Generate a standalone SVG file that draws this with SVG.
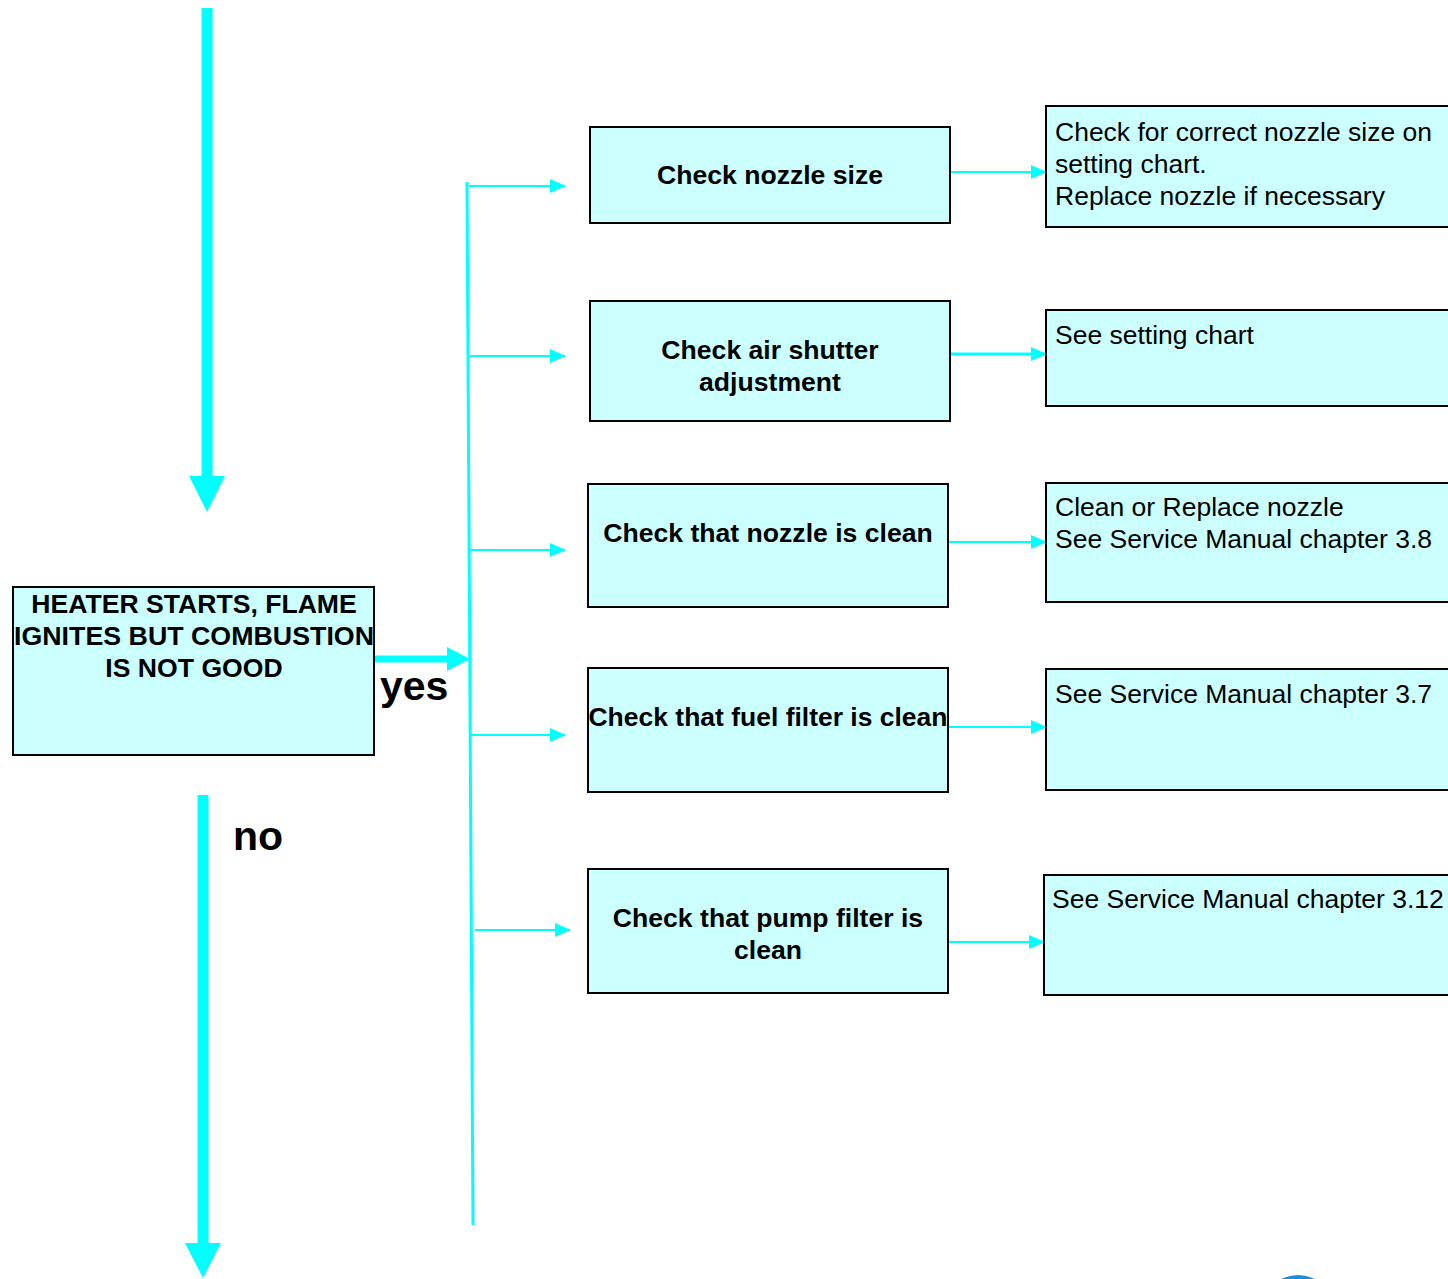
<svg xmlns="http://www.w3.org/2000/svg" width="1448" height="1279" viewBox="0 0 1448 1279">
<style>
.box{fill:#CCFFFF;stroke:#000;stroke-width:2}
.b{font-family:"Liberation Sans",Arial,sans-serif;font-weight:bold;font-size:26.6px;fill:#000}
.r{font-family:"Liberation Sans",Arial,sans-serif;font-size:26.5px;fill:#000}
.big{font-family:"Liberation Sans",Arial,sans-serif;font-weight:bold;font-size:41px;fill:#000}
.c{stroke:#00FFFF;fill:none}
.h{fill:#00FFFF}
</style>
<defs>
<marker id="ah" viewBox="0 0 16 14" refX="15" refY="7" markerWidth="16" markerHeight="14" markerUnits="userSpaceOnUse" orient="auto">
<path d="M0,0 L16,7 L0,14 Z" fill="#00FFFF"/>
</marker>
</defs>
<rect width="1448" height="1279" fill="#fff"/>
<g id="connectors">
<line class="c" x1="207" y1="8" x2="207" y2="478" stroke-width="11"/>
<polygon class="h" points="189,476 225,476 207,512"/>
<line class="c" x1="203" y1="795" x2="203" y2="1245" stroke-width="11"/>
<polygon class="h" points="185,1243 221,1243 203,1278"/>
<line class="c" x1="374" y1="659" x2="450" y2="659" stroke-width="7"/>
<polygon class="h" points="447,647 470,659 447,671"/>
<line class="c" x1="467" y1="182" x2="473" y2="1225" stroke-width="3"/>
<line class="c" x1="469" y1="186" x2="565" y2="186" stroke-width="2" marker-end="url(#ah)"/>
<line class="c" x1="470" y1="356" x2="565" y2="356" stroke-width="2" marker-end="url(#ah)"/>
<line class="c" x1="470" y1="550" x2="565" y2="550" stroke-width="2" marker-end="url(#ah)"/>
<line class="c" x1="471" y1="735" x2="565" y2="735" stroke-width="2" marker-end="url(#ah)"/>
<line class="c" x1="475" y1="930" x2="570" y2="930" stroke-width="2" marker-end="url(#ah)"/>
<line class="c" x1="950" y1="172" x2="1046" y2="172" stroke-width="2" marker-end="url(#ah)"/>
<line class="c" x1="950" y1="354" x2="1046" y2="354" stroke-width="3" marker-end="url(#ah)"/>
<line class="c" x1="948" y1="542" x2="1046" y2="542" stroke-width="2" marker-end="url(#ah)"/>
<line class="c" x1="948" y1="727" x2="1046" y2="727" stroke-width="2" marker-end="url(#ah)"/>
<line class="c" x1="948" y1="942" x2="1044" y2="942" stroke-width="2" marker-end="url(#ah)"/>
</g>
<g id="labels">
<text class="big" x="380" y="700">yes</text>
<text class="big" x="233" y="850">no</text>
</g>
<g id="start">
<rect class="box" x="13" y="587" width="361" height="168"/>
<text class="b" x="194" y="613" text-anchor="middle">HEATER STARTS, FLAME</text>
<text class="b" x="194" y="645" text-anchor="middle" textLength="360" lengthAdjust="spacingAndGlyphs">IGNITES BUT COMBUSTION</text>
<text class="b" x="194" y="677" text-anchor="middle">IS NOT GOOD</text>
</g>
<g id="check1">
<rect class="box" x="590" y="127" width="360" height="96"/>
<text class="b" x="770" y="184" text-anchor="middle">Check nozzle size</text>
</g>
<g id="check2">
<rect class="box" x="590" y="301" width="360" height="120"/>
<text class="b" x="770" y="359" text-anchor="middle">Check air shutter</text>
<text class="b" x="770" y="391" text-anchor="middle">adjustment</text>
</g>
<g id="check3">
<rect class="box" x="588" y="484" width="360" height="123"/>
<text class="b" x="768" y="542" text-anchor="middle">Check that nozzle is clean</text>
</g>
<g id="check4">
<rect class="box" x="588" y="668" width="360" height="124"/>
<text class="b" x="768" y="726" text-anchor="middle" textLength="359" lengthAdjust="spacingAndGlyphs">Check that fuel filter is clean</text>
</g>
<g id="check5">
<rect class="box" x="588" y="869" width="360" height="124"/>
<text class="b" x="768" y="927" text-anchor="middle">Check that pump filter is</text>
<text class="b" x="768" y="959" text-anchor="middle">clean</text>
</g>
<g id="action1">
<rect class="box" x="1046" y="106" width="420" height="121"/>
<text class="r" x="1055" y="141">Check for correct nozzle size on</text>
<text class="r" x="1055" y="173">setting chart.</text>
<text class="r" x="1055" y="205">Replace nozzle if necessary</text>
</g>
<g id="action2">
<rect class="box" x="1046" y="310" width="420" height="96"/>
<text class="r" x="1055" y="344">See setting chart</text>
</g>
<g id="action3">
<rect class="box" x="1046" y="483" width="420" height="119"/>
<text class="r" x="1055" y="516">Clean or Replace nozzle</text>
<text class="r" x="1055" y="548">See Service Manual chapter 3.8</text>
</g>
<g id="action4">
<rect class="box" x="1046" y="669" width="420" height="121"/>
<text class="r" x="1055" y="703">See Service Manual chapter 3.7</text>
</g>
<g id="action5">
<rect class="box" x="1044" y="875" width="420" height="120"/>
<text class="r" x="1052" y="908">See Service Manual chapter 3.12</text>
</g>
<circle cx="1298" cy="1311" r="36" fill="#1a8fd6"/>
</svg>
